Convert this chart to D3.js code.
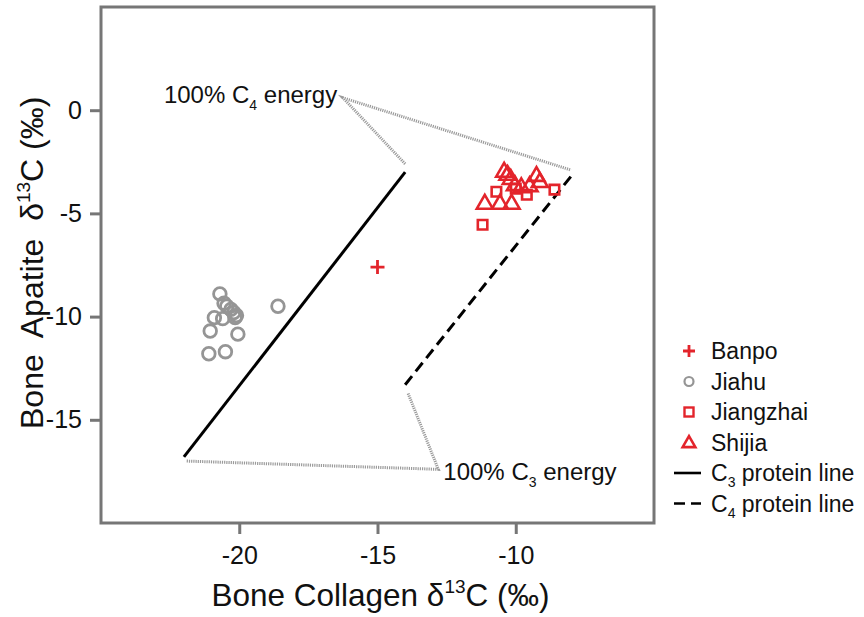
<!DOCTYPE html>
<html>
<head>
<meta charset="utf-8">
<script src="https://cdn.jsdelivr.net/npm/d3@7"></script>
<style>
  html, body { margin: 0; padding: 0; background: #fff; }
  svg { display: block; font-family: "Liberation Sans", Arial, sans-serif; }
  text { white-space: pre; }
</style>
</head>
<body>
<svg id="chart" width="864" height="617"></svg>
<script>
// ---- data ----
const xTicks = [-20, -15, -10];
const yTicks = [0, -5, -10, -15];

const banpoX = [-15.0];
const banpoY = [-7.6];

const jiahuX = [-20.7, -18.6, -20.55, -20.45, -20.3, -20.2, -20.1, -20.9, -20.6, -20.15, -21.05, -20.05, -21.1, -20.5];
const jiahuY = [-8.9, -9.5, -9.35, -9.5, -9.65, -9.8, -9.95, -10.05, -10.1, -10.05, -10.7, -10.85, -11.8, -11.7];

const jiangzhaiX = [-10.7, -10.0, -9.6, -8.6, -11.2];
const jiangzhaiY = [-3.95, -3.8, -4.1, -3.85, -5.55];

const shijiaX = [-10.42, -10.3, -10.18, -10.03, -9.8, -9.25, -9.13, -9.5, -11.12, -10.57, -10.15];
const shijiaY = [-3.0, -3.15, -3.35, -3.65, -3.75, -3.2, -3.5, -3.7, -4.55, -4.55, -4.55];

const c3LineX = [-22, -14];
const c3LineY = [-16.8, -3.0];
const c4LineX = [-14, -8];
const c4LineY = [-13.3, -3.2];

const c4EnergyX = [-14.0, -16.25, -8.0];
const c4EnergyY = [-2.6, 0.6, -2.9];
const c3EnergyX = [-21.9, -12.8, -13.9];
const c3EnergyY = [-17.0, -17.4, -13.7];

const legendLabels = ["Banpo", "Jiahu", "Jiangzhai", "Shijia", "C3 protein line", "C4 protein line"];

// ---- layout ----
const RED = "#e3242b";
const GRAY = "#959595";
const FRAME = "#767676";
const svg = d3.select("#chart");
const L = 101, R = 654, T = 7, B = 523;

const x = d3.scaleLinear().domain([-25, -5]).range([L, R]);
const y = d3.scaleLinear().domain([-20, 5]).range([B, T]);

// frame
svg.append("rect").attr("x", L).attr("y", T).attr("width", R - L).attr("height", B - T)
  .attr("fill", "none").attr("stroke", FRAME).attr("stroke-width", 3);

// axes
const xAxis = svg.append("g").attr("transform", `translate(0,${B})`)
  .call(d3.axisBottom(x).tickValues(xTicks).tickSize(11).tickPadding(12).tickFormat(d => d));
const yAxis = svg.append("g").attr("transform", `translate(${L},0)`)
  .call(d3.axisLeft(y).tickValues(yTicks).tickSize(11).tickPadding(8).tickFormat(d => d));
[xAxis, yAxis].forEach(g => {
  g.select(".domain").remove();
  g.selectAll(".tick line").attr("stroke", FRAME).attr("stroke-width", 3);
  g.selectAll(".tick text").attr("fill", "#111").style("font-size", "25px")
    .style("font-family", "Liberation Sans, Arial, sans-serif");
});
xAxis.selectAll(".tick text").attr("dy", "0.71em");

// axis titles
const xt = svg.append("text").attr("x", (L + R) / 2 + 3).attr("y", 606)
  .attr("text-anchor", "middle").attr("fill", "#111").style("font-size", "31.5px");
xt.append("tspan").text("Bone Collagen δ");
xt.append("tspan").attr("dy", -13).style("font-size", "19px").text("13");
xt.append("tspan").attr("dy", 13).text("C (‰)");

const yt = svg.append("text").attr("transform", `translate(43,429) rotate(-90)`)
  .attr("text-anchor", "start").attr("fill", "#111").style("font-size", "32px");
yt.append("tspan").text("Bone  Apatite  δ");
yt.append("tspan").attr("dy", -13).style("font-size", "19px").text("13");
yt.append("tspan").attr("dy", 13).text("C (‰)");

// energy lines (dotted)
const line = d3.line().x(d => x(d[0])).y(d => y(d[1]));
svg.append("path").datum(c4EnergyX.map((v, i) => [v, c4EnergyY[i]])).attr("d", line)
  .attr("fill", "none").attr("stroke", "#9a9a9a").attr("stroke-width", 3).attr("stroke-dasharray", "1.2,1");
svg.append("path").datum(c3EnergyX.map((v, i) => [v, c3EnergyY[i]])).attr("d", line)
  .attr("fill", "none").attr("stroke", "#9a9a9a").attr("stroke-width", 3).attr("stroke-dasharray", "1.2,1");

// protein lines
svg.append("path").datum(c3LineX.map((v, i) => [v, c3LineY[i]])).attr("d", line)
  .attr("fill", "none").attr("stroke", "#000").attr("stroke-width", 3);
svg.append("path").datum(c4LineX.map((v, i) => [v, c4LineY[i]])).attr("d", line)
  .attr("fill", "none").attr("stroke", "#000").attr("stroke-width", 3).attr("stroke-dasharray", "11,6");

// annotations
function energyLabel(xp, yp, anchor, sub) {
  const t = svg.append("text").attr("x", xp).attr("y", yp).attr("text-anchor", anchor)
    .attr("fill", "#111").style("font-size", "24px");
  t.append("tspan").text("100% C");
  t.append("tspan").attr("dy", 7).style("font-size", "14px").text(sub);
  t.append("tspan").attr("dy", -7).text(" energy");
}
energyLabel(x(-16.35) - 3, 103, "end", "4");
energyLabel(x(-12.8) + 5, 480, "start", "3");

// symbols
function drawPts(xs, ys, type, size, color, sw) {
  svg.append("g").selectAll("path").data(xs.map((v, i) => [v, ys[i]])).join("path")
    .attr("transform", d => `translate(${x(d[0])},${y(d[1])})`)
    .attr("d", d3.symbol().type(type).size(size)())
    .attr("fill", "none").attr("stroke", color).attr("stroke-width", sw);
}
drawPts(jiahuX, jiahuY, d3.symbolCircle, 125, GRAY, 2.8);
drawPts(jiangzhaiX, jiangzhaiY, d3.symbolSquare, 90, RED, 2.6);
drawPts(shijiaX, shijiaY, d3.symbolTriangle, 110, RED, 2.6);
// banpo as plus made of lines
svg.append("g").selectAll("path").data(banpoX.map((v, i) => [v, banpoY[i]])).join("path")
  .attr("d", d => { const cx = x(d[0]), cy = y(d[1]); return `M${cx - 7},${cy}H${cx + 7}M${cx},${cy - 7}V${cy + 7}`; })
  .attr("stroke", RED).attr("stroke-width", 2.8).attr("fill", "none");

// legend
const lg = svg.append("g");
const lx = 689, ly0 = 351, dyL = 30.5;
legendLabels.forEach((lab, i) => {
  const cy = ly0 + i * dyL;
  if (i === 0) {
    lg.append("path").attr("d", `M${lx - 6},${cy}H${lx + 6}M${lx},${cy - 6}V${cy + 6}`)
      .attr("stroke", RED).attr("stroke-width", 2.8);
  } else if (i === 1) {
    lg.append("circle").attr("cx", lx).attr("cy", cy).attr("r", 4.5).attr("fill", "none")
      .attr("stroke", GRAY).attr("stroke-width", 2.2);
  } else if (i === 2) {
    lg.append("rect").attr("x", lx - 4.5).attr("y", cy - 4.5).attr("width", 9).attr("height", 9)
      .attr("fill", "none").attr("stroke", RED).attr("stroke-width", 2.4);
  } else if (i === 3) {
    lg.append("path").attr("transform", `translate(${lx},${cy + 1})`)
      .attr("d", d3.symbol().type(d3.symbolTriangle).size(70)())
      .attr("fill", "none").attr("stroke", RED).attr("stroke-width", 2.6);
  } else if (i === 4) {
    lg.append("line").attr("x1", 674).attr("x2", 701).attr("y1", cy).attr("y2", cy)
      .attr("stroke", "#000").attr("stroke-width", 2.6);
  } else {
    lg.append("line").attr("x1", 674).attr("x2", 701).attr("y1", cy).attr("y2", cy)
      .attr("stroke", "#000").attr("stroke-width", 2.6).attr("stroke-dasharray", "11,6");
  }
  const t = lg.append("text").attr("x", 711).attr("y", cy + 8).attr("fill", "#111").style("font-size", "23px");
  if (i >= 4) {
    t.append("tspan").text("C");
    t.append("tspan").attr("dy", 6).style("font-size", "14px").text(i === 4 ? "3" : "4");
    t.append("tspan").attr("dy", -6).text(lab.slice(2));
  } else {
    t.text(lab);
  }
});
</script>
</body>
</html>
